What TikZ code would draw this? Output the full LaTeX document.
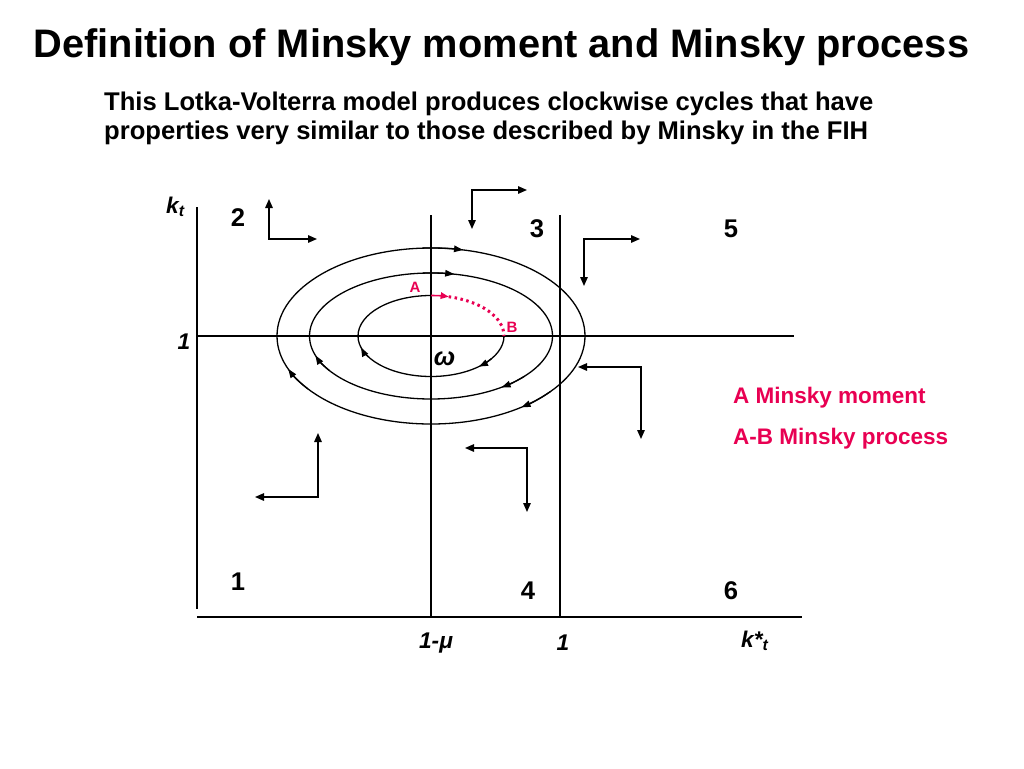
\documentclass[tikz,border=0pt]{standalone}
\usepackage{fontspec}
\setmainfont{Liberation Sans}
\usetikzlibrary{arrows.meta}
\definecolor{mred}{RGB}{232,0,82}
\begin{document}
\begin{tikzpicture}[x=1pt,y=-1pt,
  ln/.style={line width=1.3pt},
  arrtwo/.style={line width=1.4pt,{Triangle[length=9pt,width=7.5pt]}-{Triangle[length=9pt,width=7.5pt]}},
  earr/.style={line width=1.3pt,-{Triangle[length=9pt,width=6.5pt]}},
  titlef/.style={font=\fontsize{39.8}{46}\selectfont\bfseries},
  subf/.style={font=\fontsize{25.6}{30}\selectfont\bfseries},
  redf/.style={font=\fontsize{22.5}{27}\selectfont\bfseries, text=mred},
  num/.style={font=\fontsize{25.6}{30}\selectfont\bfseries, inner sep=0pt},
  lab/.style={font=\fontsize{22.7}{27}\selectfont\bfseries\itshape, inner sep=0pt},
  ablab/.style={font=\fontsize{15}{18}\selectfont\bfseries, text=mred, inner sep=0pt}
]
\useasboundingbox (0,0) rectangle (1024,768);

% texts
\node[titlef, anchor=base, inner sep=0pt] (title) at (501.5,57) {Definition of Minsky moment and Minsky process};
\node[subf, anchor=base west, inner sep=0pt] (sub1) at (104,110) {This Lotka-Volterra model produces clockwise cycles that have};
\node[subf, anchor=base west, inner sep=0pt] (sub2) at (104,139) {properties very similar to those described by Minsky in the FIH};
\node[redf, anchor=base west, inner sep=0pt] (mm) at (733,403) {A Minsky moment};
\node[redf, anchor=base west, inner sep=0pt] (mp) at (733,444) {A-B Minsky process};

% axes and lines
\coordinate (yTop) at (197,207); \coordinate (yBot) at (197,609);
\coordinate (xL) at (197,617); \coordinate (xR) at (802,617);
\coordinate (v1T) at (431,215); \coordinate (v1B) at (431,617);
\coordinate (v2T) at (560,215); \coordinate (v2B) at (560,617);
\coordinate (hL) at (197,336); \coordinate (hR) at (794,336);
\draw[ln] (yTop) -- (yBot);
\draw[ln] (xL) -- (xR);
\draw[ln] (v1T) -- (v1B);
\draw[ln] (v2T) -- (v2B);
\draw[ln] (hL) -- (hR);

% ellipses
\coordinate (w) at (431,336);
\draw[ln] (w) ellipse[x radius=154, y radius=88];
\draw[ln] (w) ellipse[x radius=121.5, y radius=63];
\draw[ln] (504,336) arc[start angle=0, end angle=270, x radius=73, y radius=40.5];
\foreach \rx/\ry/\a in {154/88/-78, 154/88/54, 154/88/158, 121.5/63/-79, 121.5/63/54.5, 121.5/63/162, 73/40.5/49, 73/40.5/163.5}
  \draw[earr] ({431+\rx*cos(\a-15)},{336+\ry*sin(\a-15)}) arc[start angle=\a-15, end angle=\a, x radius=\rx, y radius=\ry];

% Minsky process A-B
\coordinate (A) at (431,295.5);
\coordinate (B) at (504,336);
\draw[mred, line width=1.6pt, -{Triangle[length=8pt,width=6.5pt]}] (A) arc[start angle=-90, end angle=-76, x radius=73, y radius=40.5];
\draw[mred, line width=3pt, dash pattern=on 2.5pt off 3.5pt] ({431+73*cos(-76)},{336+40.5*sin(-76)}) arc[start angle=-76, end angle=0, x radius=73, y radius=40.5];
\node[ablab] (Alab) at (415,287) {A};
\node[ablab] (Blab) at (512,327) {B};

% direction arrows
\coordinate (c1) at (269,239); \coordinate (a1) at (269,199); \coordinate (b1) at (317,239);
\coordinate (c2) at (472,190); \coordinate (a2) at (472,229); \coordinate (b2) at (527,190);
\coordinate (c3) at (584,239); \coordinate (a3) at (584,286); \coordinate (b3) at (640,239);
\coordinate (c4) at (641,367); \coordinate (a4) at (578,367); \coordinate (b4) at (641,439);
\coordinate (c5) at (527,448); \coordinate (a5) at (465,448); \coordinate (b5) at (527,512);
\coordinate (c6) at (318,497); \coordinate (a6) at (318,433); \coordinate (b6) at (255,497);
\foreach \i in {1,...,6}
  \draw[arrtwo] (a\i) -- (c\i) -- (b\i);

% region numbers
\node[num] (n2) at (238,218) {2};
\node[num] (n3) at (537,229) {3};
\node[num] (n5) at (731,229) {5};
\node[num] (n1) at (238,582) {1};
\node[num] (n4) at (528,591) {4};
\node[num] (n6) at (731,591) {6};

% axis labels
\node[lab, anchor=base west] (kt) at (166,213) {k\textsubscript{t}};
\node[lab] (one) at (184,342) {1};
\node[lab] (omu) at (436,643) {1-μ};
\node[lab] (onex) at (563,643) {1};
\node[lab, anchor=base west] (kst) at (741,647) {k*\textsubscript{t}};
\node[font=\fontsize{25.6}{30}\selectfont\bfseries\itshape, inner sep=0pt] (om) at (444.5,359) {ω};
\end{tikzpicture}
\end{document}
